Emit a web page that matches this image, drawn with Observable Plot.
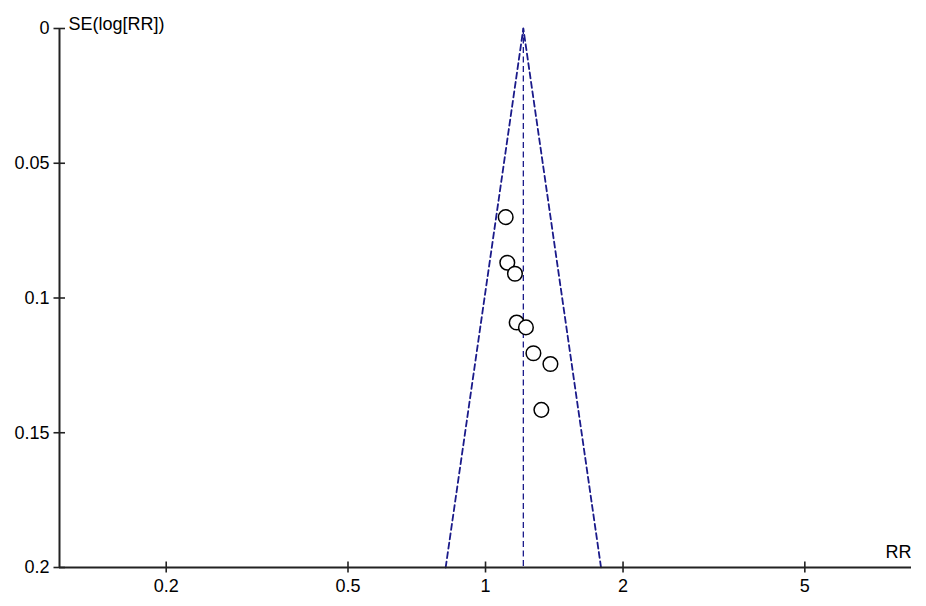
<!DOCTYPE html>
<html><head><meta charset="utf-8">
<script src="https://cdn.jsdelivr.net/npm/d3@7"></script>
<script src="https://cdn.jsdelivr.net/npm/@observablehq/plot@0.6"></script>
<style>body{margin:0;background:#fff}</style>
</head><body><div id="chart"></div>
<script>
const studyRR = [1.107, 1.116, 1.160, 1.170, 1.226, 1.273, 1.387, 1.325];
const studySE = [0.0700, 0.0869, 0.0910, 0.1091, 0.1109, 0.1205, 0.1245, 0.1415];
const pooledRR = 1.21;
const funnelRR = [0.818, 1.21, 1.79];
const funnelSE = [0.2, 0, 0.2];
const xTicks = [0.2, 0.5, 1, 2, 5];
const yTicks = [0, 0.05, 0.1, 0.15, 0.2];
const xDomain = [0.1168, 8.56];
const yDomain = [0, 0.2];

const studies = studyRR.map((rr, i) => ({rr, se: studySE[i]}));
const funnel = funnelRR.map((rr, i) => ({rr, se: funnelSE[i]}));
const axisColor = "#222";
const blue = "#1a1a8a";

const chart = Plot.plot({
  width: 926,
  height: 606,
  marginLeft: 59,
  marginRight: 15,
  marginTop: 28,
  marginBottom: 39,
  style: {fontFamily: "'Liberation Sans', Arial, sans-serif", fontSize: "18px", color: "#000", background: "#fff"},
  x: {type: "log", domain: xDomain, label: null},
  y: {domain: yDomain, reverse: true, label: null},
  marks: [
    Plot.line(funnel, {x: "rr", y: "se", stroke: blue, strokeWidth: 1.8, strokeDasharray: "6,3.5"}),
    Plot.ruleX([pooledRR], {y1: yDomain[0], y2: yDomain[1], stroke: blue, strokeWidth: 1.3, strokeDasharray: "6,3.5"}),
    Plot.ruleX([xDomain[0]], {y1: yDomain[0], y2: yDomain[1], stroke: axisColor, strokeWidth: 2}),
    Plot.ruleY([yDomain[1]], {x1: xDomain[0], x2: xDomain[1], stroke: axisColor, strokeWidth: 2}),
    Plot.ruleX(xTicks, {x: d => d, y1: yDomain[1], y2: yDomain[1], insetTop: -5.5, insetBottom: -5.5, stroke: axisColor, strokeWidth: 1.6}),
    Plot.ruleY(yTicks, {y: d => d, x1: xDomain[0], x2: xDomain[0], insetLeft: -5.5, insetRight: -6, stroke: axisColor, strokeWidth: 1.6}),
    Plot.axisX(xTicks, {tickSize: 0, tickPadding: 12, fontSize: 18, tickFormat: d => String(d), label: null}),
    Plot.axisY(yTicks, {tickSize: 0, tickPadding: 10, fontSize: 18, tickFormat: d => String(d), label: null}),
    Plot.dot(studies, {x: "rr", y: "se", r: 7.3, stroke: "#000", strokeWidth: 1.5, fill: "#fff"}),
    Plot.text(["SE(log[RR])"], {frameAnchor: "top-left", textAnchor: "start", dx: 9, dy: -11, fontSize: 18, fill: "#000"}),
    Plot.text(["RR"], {frameAnchor: "bottom-right", textAnchor: "end", dx: 0, dy: -10, fontSize: 18, fill: "#000"})
  ]
});
document.getElementById("chart").appendChild(chart);
</script>
</body></html>
